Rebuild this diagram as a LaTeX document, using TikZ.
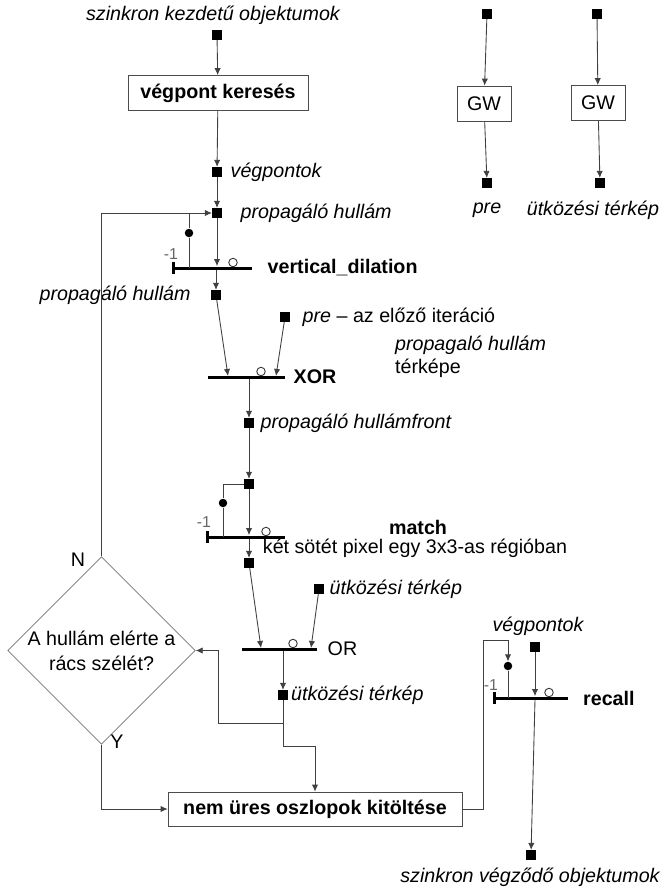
\documentclass[tikz,border=0pt]{standalone}
\usepackage{fontspec}
\setmainfont{Liberation Sans}
\usepackage{xcolor}
\usetikzlibrary{positioning}
\usetikzlibrary{shapes.geometric}
\usetikzlibrary{arrows.meta}
\tikzstyle{pix}=[fill=black, inner sep=0pt, minimum size=0.19cm]
\tikzstyle{proc}=[draw=black!70, font=\bfseries, inner sep=0pt, minimum height=0.7cm]
\tikzstyle{bar}=[fill=black, inner sep=0pt, minimum height=1.7pt]
\tikzstyle{ring}=[circle, draw=black!80, fill=white, inner sep=0pt, minimum size=0.17cm, line width=0.5pt]
\tikzstyle{dot}=[circle, fill=black, inner sep=0pt, minimum size=0.17cm]
\tikzstyle{flow}=[-{Latex[length=4pt,width=3.6pt]}, draw=black!75, line width=0.5pt]
\tikzstyle{wire}=[draw=black!75, line width=0.5pt]
\tikzstyle{tick}=[draw=black, line width=1.4pt]
\tikzstyle{lbl}=[font=\itshape, inner sep=1pt]
\tikzstyle{opname}=[font=\bfseries, inner sep=1pt]
\tikzstyle{minus}=[font=\fontsize{9}{10}\selectfont, text=black!60, inner sep=0pt]

\begin{document}
\fontsize{11.2}{13.4}\selectfont
\begin{tikzpicture}[x=0.02cm, y=-0.02cm]
    \useasboundingbox (0,0) rectangle (668,890);

    % kezdeti lanc
    \node[lbl]    (startlbl)  at (213,15)                    {szinkron kezdetű objektumok};
    \node[pix]    (start)     at (217,35)                    {};
    \node[proc, minimum width=3.6cm] (search) at (218,93)    {végpont keresés};
    \node[pix]    (endp)      at (217,172)                   {};
    \node[lbl]    (endplbl)   [right=0.13cm of endp]         {végpontok};
    \node[pix]    (wave)      at (217,213)                   {};
    \node[lbl]    (wavelbl)   [right=0.33cm of wave]         {propagáló hullám};

    % vertical_dilation
    \node[bar, minimum width=1.56cm] (vd) at (213,268)       {};
    \node[ring]   (vdring)    at (233,262.5)                 {};
    \node[opname] (vdlbl)     [right=0.265cm of vd]          {vertical\_dilation};
    \node[minus]  (vdm)       at (171,254)                   {-1};
    \coordinate   (vdfork)    at (189,213);
    \node[dot]    (vddot)     at (189,233)                   {};
    \node[pix]    (wave2)     at (216,295)                   {};
    \node[lbl]    (wave2lbl)  [left=0.365cm of wave2]        {propagáló hullám};

    % XOR
    \node[pix]    (prev)      at (285,317)                   {};
    \node         (prevlbl)   [right=0.21cm of prev, inner sep=1pt] {\textit{pre} – az előző iteráció};
    \node         (prevlbl2)  [anchor=west, align=left, inner sep=1pt] at (393,357) {\textit{propagaló hullám}\\térképe};
    \node[bar, minimum width=1.54cm] (xor) at (246.5,377)    {};
    \node[ring]   (xorring)   at (261,371.5)                 {};
    \node[opname] (xorlbl)    [right=0.125cm of xor]         {XOR};
    \coordinate   (xorin1)    at (228,376);
    \coordinate   (xorin2)    at (276,376);
    \node[pix]    (front)     at (249,423)                   {};
    \node[lbl]    (frontlbl)  [right=0.09cm of front]        {propagáló hullámfront};

    % match
    \node[pix]    (m1)        at (249,484)                   {};
    \coordinate   (mfork)     at (223,484);
    \node[dot]    (mdot)      at (223,503)                   {};
    \node[bar, minimum width=1.54cm] (match) at (246.5,537)  {};
    \node[ring]   (mring)     at (266,531.5)                 {};
    \node[minus]  (mm)        at (204,522)                   {-1};
    \node[opname] (matchlbl)  at (418,527)                   {match};
    \node         (matchtxt)  at (415,548)                   {két sötét pixel egy 3x3-as régióban};
    \node[pix]    (m2)        at (249,563)                   {};

    % OR
    \node[pix]    (coll)      at (319,589)                   {};
    \node[lbl]    (colllbl)   [right=0.07cm of coll]         {ütközési térkép};
    \node[bar, minimum width=1.5cm] (or) at (279.5,649)      {};
    \node[ring]   (orring)    at (293,643.5)                 {};
    \node         (orlbl)     [right=0.165cm of or, inner sep=1pt] {OR};
    \coordinate   (orin1)     at (261,648);
    \coordinate   (orin2)     at (311,648);
    \node[pix]    (cmap)      at (283,695)                   {};
    \node[lbl]    (cmaplbl)   [right=0.02cm of cmap]         {ütközési térkép};
    \coordinate   (cj1)       at (283,723);
    \coordinate   (cj2)       at (283,746);

    % dontes es kitoltes
    \node[diamond, draw=black!55, minimum width=3.66cm, minimum height=3.1cm, inner sep=0pt, align=center]
                  (cond)      at (101.5,650.5)               {A hullám elérte a\\[1pt]rács szélét?};
    \node         (nlbl)      at (78,560)                    {N};
    \node         (ylbl)      at (117,742)                   {Y};
    \node[proc, minimum width=5.88cm, minimum height=0.68cm] (fillcol) at (315,809) {nem üres oszlopok kitöltése};

    % recall
    \node[pix]    (endp2)     at (535,647)                   {};
    \node[lbl]    (endp2lbl)  at (538,626)                   {végpontok};
    \coordinate   (rcfork)    at (508,640);
    \node[dot]    (rcdot)     at (508,666)                   {};
    \node[bar, minimum width=1.46cm] (rc) at (531.5,698)     {};
    \node[ring]   (rcring)    at (549,692.5)                 {};
    \node[minus]  (rcm)       at (491,685)                   {-1};
    \node[opname] (rclbl)     [right=0.255cm of rc]          {recall};
    \node[pix]    (out)       at (531,855)                   {};
    \node[lbl]    (outlbl)    at (530,877)                   {szinkron végződő objektumok};

    % GW
    \node[pix]    (gin1)      at (487,14)                    {};
    \node[proc, font=\normalfont, minimum width=1.08cm] (gw1) at (484,103.5) {GW};
    \node[pix]    (gout1)     at (487,183)                   {};
    \node[lbl]    (gout1lbl)  at (487,210)                   {pre};
    \node[pix]    (gin2)      at (597,14)                    {};
    \node[proc, font=\normalfont, minimum width=1.08cm] (gw2) at (598,103) {GW};
    \node[pix]    (gout2)     at (600,183)                   {};
    \node[lbl]    (gout2lbl)  at (593,210)                   {ütközési térkép};

    \draw[flow]   (start)     -- (search);
    \draw[flow]   (search)    -- (endp);
    \draw[flow]   (endp)      -- (wave);
    \draw[flow]   (cond.north) |- (wave);
    \draw[wire]   (vdfork)    -- (vddot) -- (vddot |- vd.center);
    \draw[flow]   (wave)      -- (wave |- vd.north);
    \draw[flow]   (wave2 |- vd.south) -- (wave2);
    \draw[tick]   (vd.west) ++(0,-6) -- ++(0,12);

    \draw[flow]   (wave2)     -- (xorin1);
    \draw[flow]   (prev)      -- (xorin2);
    \draw[flow]   (front |- xor.south) -- (front);
    \draw[flow]   (front)     -- (m1);

    \draw[wire]   (m1)        -- (mfork) -- (mdot) -- (mdot |- match.center);
    \draw[flow]   (m1)        -- (m1 |- match.north);
    \draw[flow]   (m1 |- match.south) -- (m2);
    \draw[tick]   (match.west) ++(0,-6) -- ++(0,12);

    \draw[flow]   (m2)        -- (orin1);
    \draw[flow]   (coll)      -- (orin2);
    \draw[flow]   (cmap |- or.south) -- (cmap);
    \draw[wire]   (cmap)      -- (cj2);
    \draw[flow]   (cj1)       -- ++(-65,0) |- (cond.east);
    \draw[flow]   (cj2)       -| (fillcol.north);
    \draw[flow]   (cond.south) |- (fillcol.west);

    \draw[flow]   (fillcol.east) -- ++(21,0) |- (rcfork) -- (rcdot);
    \draw[wire]   (rcdot)     -- (rcdot |- rc.center);
    \draw[flow]   (endp2)     -- (endp2 |- rc.north);
    \draw[flow]   (endp2 |- rc.south) -- (out);
    \draw[tick]   (rc.west) ++(0,-6) -- ++(0,12);

    \draw[flow]   (gin1)      -- (gw1);
    \draw[flow]   (gw1)       -- (gout1);
    \draw[flow]   (gin2)      -- (gw2);
    \draw[flow]   (gw2)       -- (gout2);
\end{tikzpicture}
\end{document}
